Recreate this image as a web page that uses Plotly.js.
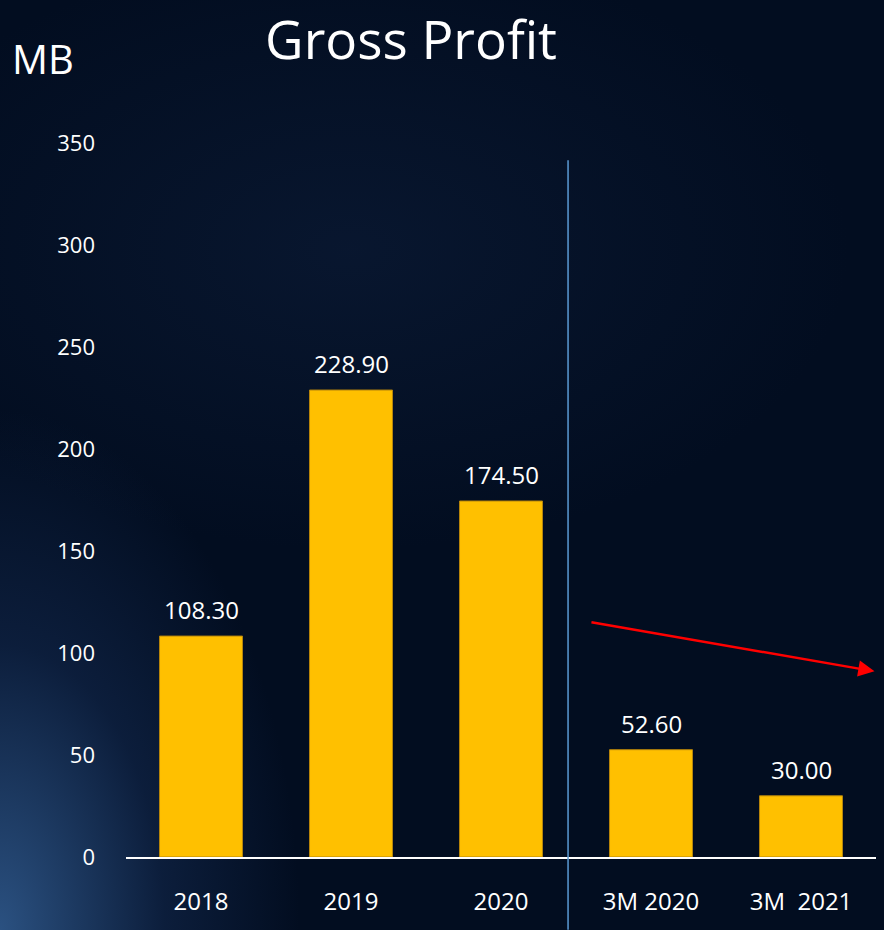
<!DOCTYPE html>
<html>
<head>
<meta charset="utf-8">
<script src="https://cdn.plot.ly/plotly-3.0.1.min.js"></script>
<style>
  html, body { margin: 0; padding: 0; }
  body {
    width: 884px; height: 930px; overflow: hidden;
    background:
      radial-gradient(ellipse 300px 520px at 0px 930px, rgba(60,110,170,0.7), rgba(30,60,110,0.35) 55%, rgba(2,13,32,0) 100%),
      radial-gradient(ellipse 500px 300px at 350px 250px, rgba(20,40,75,0.35), rgba(2,13,32,0) 100%),
      #020d20;
  }
  #chart { width: 884px; height: 930px; }
</style>
</head>
<body>
<div id="chart"></div>
<script>
const categories = ["2018", "2019", "2020", "3M 2020", "3M  2021"];
const grossProfit = [108.30, 228.90, 174.50, 52.60, 30.00];
const yTicks = [0, 50, 100, 150, 200, 250, 300, 350];

const FONT = "Open Sans, Lato, sans-serif";

const trace = {
  type: "bar",
  x: categories,
  y: grossProfit,
  marker: { color: "#FFC000", line: { color: "#B8860B", width: 1 } },
  cliponaxis: false,
  hoverinfo: "x+y"
};

const valueLabels = categories.map((c, i) => ({
  text: grossProfit[i].toFixed(2),
  xref: "x", yref: "y", x: i, y: grossProfit[i],
  xanchor: "center", yanchor: "bottom", yshift: 8,
  showarrow: false,
  font: { family: FONT, size: 24, color: "#ffffff" }
}));

const layout = {
  width: 884, height: 930,
  paper_bgcolor: "rgba(0,0,0,0)",
  plot_bgcolor: "rgba(0,0,0,0)",
  margin: { l: 126, r: 8, t: 143, b: 73 },
  showlegend: false,
  bargap: 0.447,
  title: {
    text: "Gross Profit",
    font: { family: FONT, size: 53, color: "#ffffff" },
    x: 0.465, xanchor: "center", xref: "container",
    y: 0.956, yanchor: "middle", yref: "container"
  },
  xaxis: {
    type: "category",
    range: [-0.5, 4.5],
    showgrid: false,
    showline: true, linecolor: "#ffffff", linewidth: 2,
    ticks: "", ticklabelstandoff: 22,
    tickfont: { family: FONT, size: 24, color: "#ffffff" },
    fixedrange: true
  },
  yaxis: {
    range: [0, 350],
    tickvals: yTicks,
    showgrid: false, zeroline: false, showline: false,
    ticks: "", ticklabelstandoff: 30,
    tickfont: { family: FONT, size: 22, color: "#ffffff" },
    fixedrange: true
  },
  shapes: [
    {
      type: "line", xref: "x", yref: "paper",
      x0: 2.447, x1: 2.447, y0: 0.976, y1: -0.102,
      line: { color: "#5B9BD5", width: 1.5 }
    }
  ],
  annotations: valueLabels.concat([
    {
      text: "MB", xref: "paper", yref: "paper",
      x: -0.155, y: 1.118, xanchor: "left", yanchor: "middle",
      showarrow: false,
      font: { family: FONT, size: 40, color: "#ffffff" }
    },
    {
      text: "", xref: "x", yref: "y", axref: "x", ayref: "y",
      x: 4.49, y: 91, ax: 2.593, ay: 115.2,
      showarrow: true, arrowhead: 2, arrowsize: 1.3, arrowwidth: 2.5,
      arrowcolor: "#FF0000", standoff: 0
    }
  ])
};

Plotly.newPlot("chart", [trace], layout, { displayModeBar: false, staticPlot: true });
</script>
</body>
</html>
